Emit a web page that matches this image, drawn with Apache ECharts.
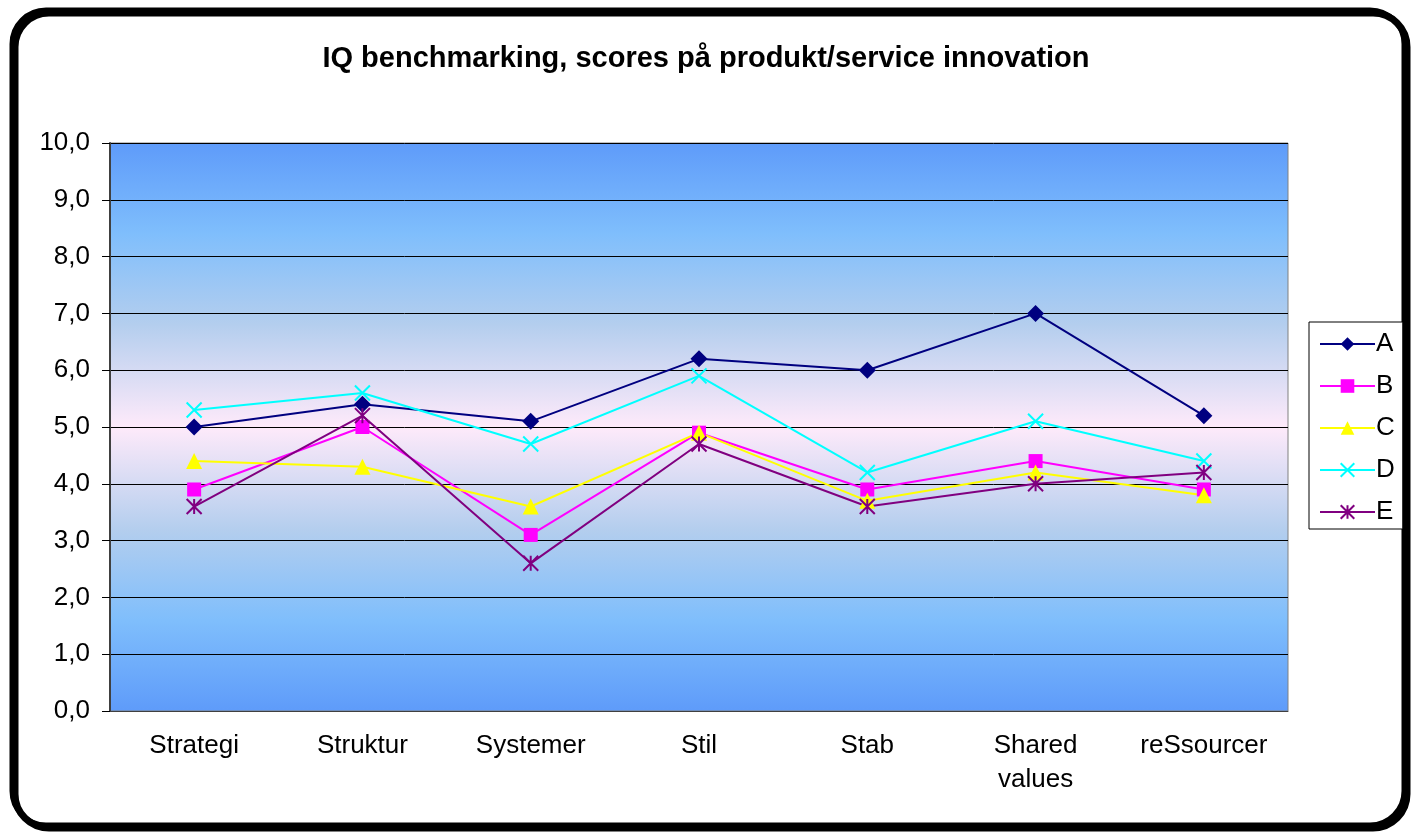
<!DOCTYPE html>
<html>
<head>
<meta charset="utf-8">
<style>
html, body {
  margin: 0;
  padding: 0;
  background-color: #FFF;
}
#chart {
  width: 1412px;
  height: 836px;
}
</style>
<script src="https://cdn.jsdelivr.net/npm/echarts@6/dist/echarts.min.js"></script>
</head>
<body>
<div id="chart"></div>
<script>
var categories = ['Strategi', 'Struktur', 'Systemer', 'Stil', 'Stab', 'Shared\nvalues', 'reSsourcer']
var seriesA = [5.0, 5.4, 5.1, 6.2, 6.0, 7.0, 5.2]
var seriesB = [3.9, 5.0, 3.1, 4.9, 3.9, 4.4, 3.9]
var seriesC = [4.4, 4.3, 3.6, 4.9, 3.7, 4.2, 3.8]
var seriesD = [5.3, 5.6, 4.7, 5.9, 4.2, 5.1, 4.4]
var seriesE = [3.6, 5.2, 2.6, 4.7, 3.6, 4.0, 4.2]

var font = 'Liberation Sans, Arial, sans-serif'

// marker for each serie, excel style
var marks = [
  { name: 'A', data: seriesA, color: '#000080', symbol: 'diamond', size: 17 },
  { name: 'B', data: seriesB, color: '#FF00FF', symbol: 'rect', size: 14 },
  { name: 'C', data: seriesC, color: '#FFFF00', symbol: 'triangle', size: 16 },
  { name: 'D', data: seriesD, color: '#00FFFF', symbol: 'path://M0,0L10,10M10,0L0,10', size: 15, stroke: true },
  { name: 'E', data: seriesE, color: '#800080', symbol: 'path://M0,0L10,10M10,0L0,10M5,0L5,10', size: 15, stroke: true }
]

var chart = echarts.init(document.getElementById('chart'))

var option = {
  animation: false,
  backgroundColor: '#FFF',
  textStyle: { fontFamily: font },
  title: {
    text: 'IQ benchmarking, scores på produkt/service innovation',
    left: 'center',
    top: 39,
    textStyle: {
      fontFamily: font,
      fontSize: 29,
      fontWeight: 'bold',
      color: '#000'
    }
  },
  graphic: [
    {
      type: 'rect',
      z: -1,
      shape: { x: 15, y: 13, width: 1392, height: 815, r: 34 },
      style: { fill: 'none', stroke: '#000', lineWidth: 7 }
    },
    {
      type: 'rect',
      z: 0,
      shape: { x: 12, y: 10, width: 1392, height: 815, r: 34 },
      style: { fill: 'none', stroke: '#000', lineWidth: 5 }
    }
  ],
  legend: {
    orient: 'vertical',
    left: 1309,
    top: 322,
    width: 94,
    padding: [9, 8, 4, 10],
    itemGap: 16,
    itemWidth: 55,
    itemHeight: 17,
    backgroundColor: '#FFF',
    borderColor: '#000',
    borderWidth: 1,
    textStyle: {
      fontFamily: font,
      fontSize: 26,
      lineHeight: 26,
      color: '#000',
      padding: [0, 0, 0, -4]
    },
    data: marks.map(m => m.name)
  },
  grid: {
    left: 110,
    right: 124,
    top: 143,
    bottom: 125,
    show: true,
    borderColor: '#808080',
    borderWidth: 1,
    backgroundColor: new echarts.graphic.LinearGradient(0, 0, 0, 1, [
      { offset: 0, color: '#5E9BFA' },
      { offset: 0.16, color: '#7FBEFC' },
      { offset: 0.32, color: '#B4CEEE' },
      { offset: 0.5, color: '#FEEAFA' },
      { offset: 0.68, color: '#B4CEEE' },
      { offset: 0.84, color: '#7FBEFC' },
      { offset: 1, color: '#5E9BFA' }
    ])
  },
  xAxis: {
    type: 'category',
    data: categories,
    boundaryGap: true,
    axisLine: { lineStyle: { color: '#404040', width: 1 } },
    axisTick: { length: 8, lineStyle: { color: '#808080', width: 2 } },
    axisLabel: {
      fontFamily: font,
      fontSize: 26,
      lineHeight: 34,
      color: '#000',
      margin: 18,
      interval: 0
    }
  },
  yAxis: {
    type: 'value',
    min: 0,
    max: 10,
    interval: 1,
    axisLine: { show: true, lineStyle: { color: '#404040', width: 2 } },
    axisTick: { show: true, length: 8, lineStyle: { color: '#000' } },
    splitLine: { lineStyle: { color: '#000', width: 1 } },
    axisLabel: {
      fontFamily: font,
      fontSize: 26,
      color: '#000',
      margin: 20,
      formatter: v => v.toFixed(1).replace('.', ',')
    }
  },
  series: marks.map(m => ({
    name: m.name,
    type: 'line',
    data: m.data,
    symbol: m.symbol,
    symbolSize: m.size,
    lineStyle: { color: m.color, width: 2 },
    itemStyle: m.stroke
      ? { color: m.color, borderColor: m.color, borderWidth: 2 }
      : { color: m.color, borderWidth: 0 }
  }))
}

chart.setOption(option)
</script>
</body>
</html>
